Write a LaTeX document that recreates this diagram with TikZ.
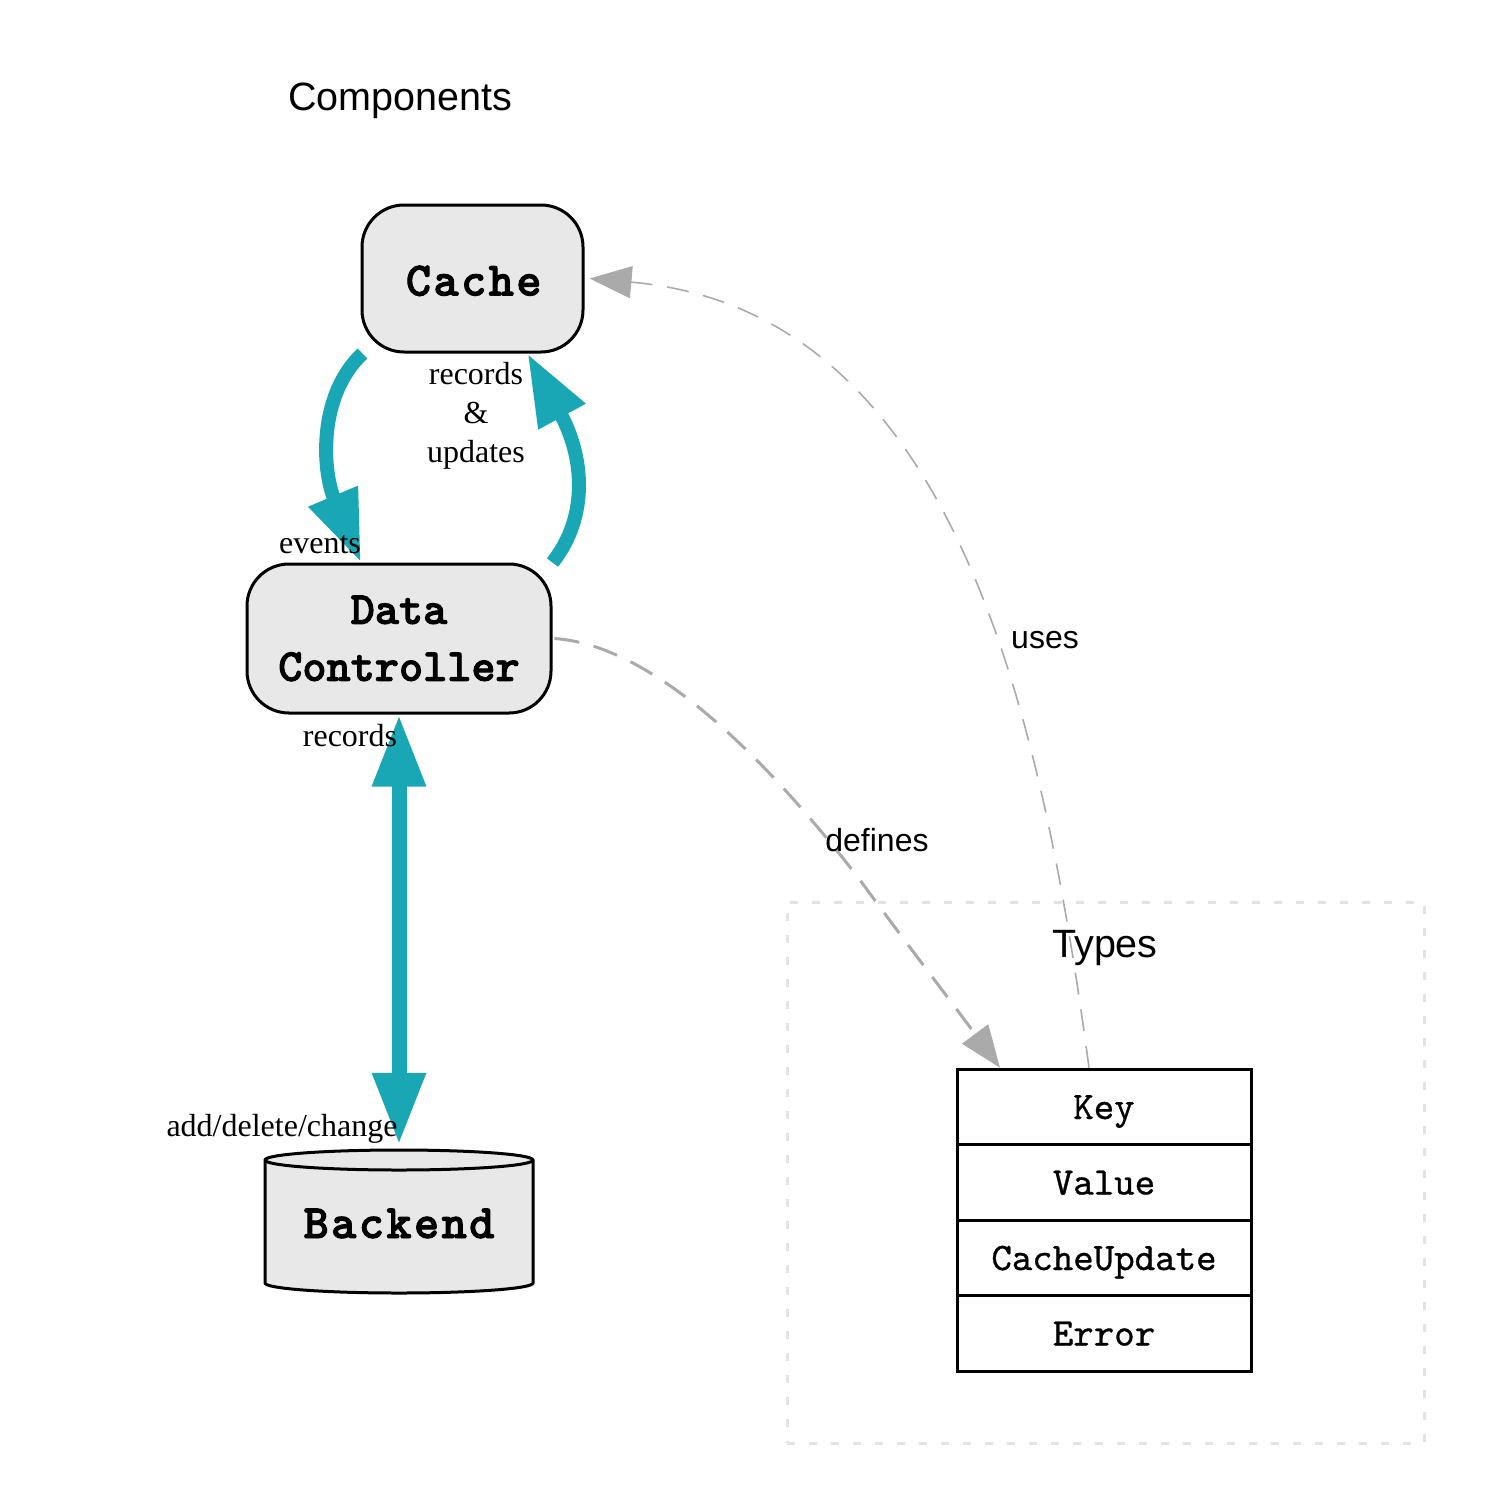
\documentclass[tikz,border=0pt]{standalone}
\usepackage{fontspec}
\setmainfont{Liberation Serif}
\newfontfamily\arialf{Liberation Sans}
\newfontfamily\compff{lmmonolt10-bold.otf}[FakeBold=2]
\newfontfamily\compwideff{lmmonolt10-bold.otf}[FakeBold=2, LetterSpace=5]
\newfontfamily\typeff{lmmono10-regular.otf}[FakeBold=0.8]
\usetikzlibrary{arrows.meta}
\definecolor{tealc}{HTML}{1AA7B5}
\definecolor{edgegray}{HTML}{AAAAAA}
\definecolor{nodefill}{HTML}{E8E8E8}
\definecolor{clustergray}{HTML}{E3E3E3}
\newcommand\compfont{\compff\fontsize{46}{57}\selectfont}
\newcommand\compwidefont{\compwideff\fontsize{48}{57}\selectfont}
\newcommand\typefont{\typeff\fontsize{39}{45}\selectfont}
\newcommand\elabfont{\fontsize{32}{40}\selectfont}
\newcommand\sanslab{\arialf\fontsize{32}{38}\selectfont}
\newcommand\titlefont{\arialf\fontsize{39.5}{45}\selectfont}
\begin{document}
\begin{tikzpicture}[x=1pt,y=-1pt,
  comp/.style={draw=black, line width=3pt, fill=nodefill, rounded corners=42pt,
    font=\compfont, align=center, inner sep=0pt},
  typerow/.style={draw=black, line width=3pt, fill=white, font=\typefont,
    minimum width=294pt, minimum height=75.5pt, inner sep=0pt,
    text height=24pt, text depth=0pt},
  tealedge/.style={draw=tealc, line width=14pt,
    -{Triangle[length=72pt,width=50pt]}},
  grayedge/.style={draw=edgegray, -{Triangle[length=42pt,width=32pt]}},
  elab/.style={font=\elabfont, inner sep=0pt, align=center},
  slab/.style={font=\sanslab, inner sep=0pt},
  title/.style={font=\titlefont, inner sep=0pt}]
\useasboundingbox (0,0) rectangle (1500,1500);
\fill[white] (0,0) rectangle (1500,1500);

% Types cluster
\node[draw=clustergray, line width=3pt, dash pattern=on 8pt off 14pt,
  minimum width=637pt, minimum height=541pt, inner sep=0pt] (typesbox) at (1105.5,1172.5) {};
\node[title] (typestitle) at (1105,948) {Types};
\node[title] (comptitle) at (400,101) {Components};

% component nodes
\node[comp, font=\compwidefont, minimum width=221pt, minimum height=147pt, text height=34pt, text depth=0pt] (cache) at (472.5,278.5) {Cache\hspace{-2.4pt}};
\node[comp, minimum width=304pt, minimum height=149pt] (dc) at (399,638.5) {Data\\Controller};

% backend cylinder
\node[minimum width=268pt, minimum height=143pt, inner sep=0pt] (backend) at (399,1221.5) {};
\filldraw[draw=black, fill=nodefill, line width=3pt]
  (265,1160) -- (265,1283) arc[start angle=180, end angle=360, x radius=134pt, y radius=10pt]
  -- (533,1160) arc[start angle=0, end angle=180, x radius=134pt, y radius=10pt] -- cycle;
\draw[black, line width=3pt] (265,1160) arc[start angle=180, end angle=360, x radius=134pt, y radius=10pt];
\node[font=\compwidefont, inner sep=0pt, text height=34pt, text depth=0pt] (backendlabel) at (399,1221) {Backend\hspace{-2.4pt}};

% types table
\node[typerow] (key) at (1104,1107) {Key};
\node[typerow] (value) at (1104,1182.5) {Value};
\node[typerow] (cacheupd) at (1104,1258) {CacheUpdate};
\node[typerow] (error) at (1104,1333.5) {Error};

% teal edges
\draw[tealedge] ([xshift=2pt]cache.south west) .. controls (318,395) and (322,470) .. ([xshift=-38pt]dc.north);
\draw[tealedge] (dc.north east) .. controls (590,515) and (583,455) .. ([xshift=55pt]cache.south);
\draw[draw=tealc, line width=15pt,
  {Triangle[length=72pt,width=50pt]}-{Triangle[length=72pt,width=50pt]}, shorten >=5pt]
  (dc.south) -- (backend.north);

% gray edges
\draw[grayedge, line width=3pt, dash pattern=on 25pt off 15pt]
  ([xshift=2pt]dc.east) .. controls (650,645) and (760,750) .. (860,880)
  .. controls (900,935) and (950,1000) .. ([xshift=-104pt]key.north);
\draw[grayedge, line width=1.6pt, dash pattern=on 22pt off 15pt]
  ([xshift=-15pt]key.north) .. controls (1040,700) and (950,310) .. ([xshift=5pt]cache.east);

% edge labels
\node[elab] (lblevents) at (320,545) {events};
\node[elab] (lblru) at (476,416) {records\\[-1pt]\&\\[-1pt]updates};
\node[elab] (lblrecords) at (350,736) {records};
\node[elab] (lbladc) at (282,1129) {add/delete/change};
\node[slab] (lbluses) at (1045,640) {uses};
\node[slab] (lbldefines) at (877,840) {defines};
\end{tikzpicture}
\end{document}
